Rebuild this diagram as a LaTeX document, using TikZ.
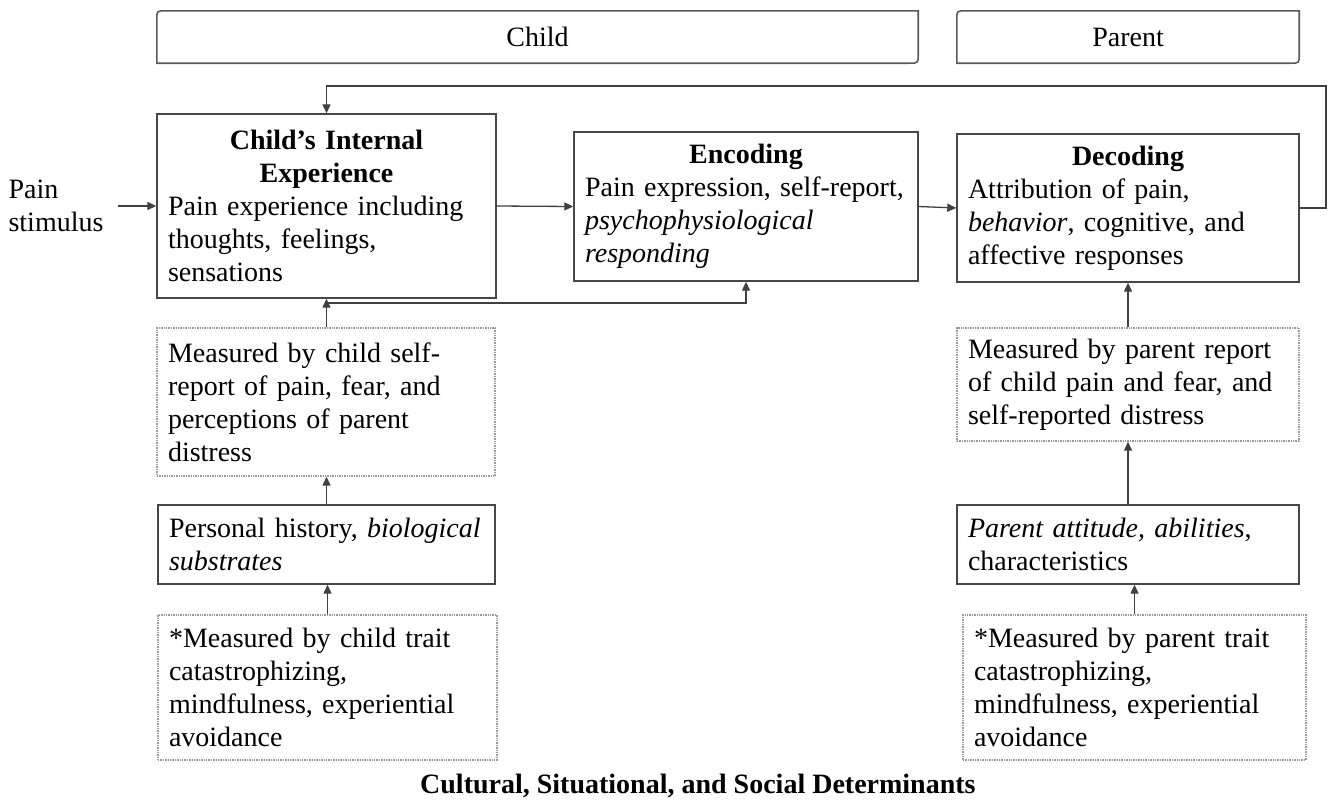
\documentclass[tikz,border=0pt]{standalone}
\usepackage{fontspec}
\setmainfont{Liberation Serif}
\usetikzlibrary{arrows.meta,calc}
\begin{document}
\begin{tikzpicture}[x=1pt,y=-1pt,
  font=\fontsize{28}{33}\selectfont,
  box/.style={draw=black!72, line width=1.4pt, fill=white, inner xsep=11pt, inner ysep=0pt, align=left, minimum height=#1},
  mbox/.style={box=#1, draw=black!40, densely dotted},
  banner/.style={inner sep=0pt, minimum height=52pt},
  bannerline/.style={draw=black!65, line width=1.6pt},
  plain/.style={inner sep=0pt, align=left},
  arr/.style={draw=black!75, line width=1.3pt, -{Triangle[length=9pt,width=8pt]}}]
\useasboundingbox[fill=white] (0,0) rectangle (1332,811);

% banners
\node[banner, minimum width=761pt] (bc) at (537.5,37) {Child};
\node[banner, minimum width=342pt] (bp) at (1128,37) {Parent};
\foreach \b in {bc,bp}{
  \draw[bannerline] (\b.south west) -- ([yshift=-9pt]\b.north west) .. controls (\b.north west) .. ([xshift=9pt]\b.north west)
    -- (\b.north east) -- ([yshift=9pt]\b.south east) .. controls (\b.south east) .. ([xshift=-9pt]\b.south east) -- cycle;
}

% main row
\node[box=184pt, text width=317pt] (cie) at (326.5,206) {{\centering\textbf{Child’s Internal}\\\textbf{Experience}\par}Pain experience including\\thoughts, feelings,\\sensations};
\node[box=149pt, text width=322pt] (enc) at (746,206.5) {{\centering\textbf{Encoding}\par}Pain expression, self-report,\\\textit{psychophysiological}\\\textit{responding}};
\node[box=148pt, text width=320pt] (dec) at (1128,208) {{\centering\textbf{Decoding}\par}Attribution of pain,\\\textit{behavior}, cognitive, and\\affective responses};

\node[plain] (stim) at (56,206) {Pain\\stimulus};

% child column
\node[mbox=148pt, text width=316pt] (mch) at (326,402) {Measured by child self-\\report of pain, fear, and\\perceptions of parent\\distress};
\node[box=79pt, text width=315pt] (pers) at (326.5,544.5) {Personal history, \textit{biological}\\\textit{substrates}};
\node[mbox=145pt, text width=317pt] (tch) at (327.5,687.5) {*Measured by child trait\\catastrophizing,\\mindfulness, experiential\\avoidance};

% parent column
\node[mbox=113pt, text width=320pt] (mpa) at (1128,384.5) {Measured by parent report\\of child pain and fear, and\\self-reported distress};
\node[box=79pt, text width=320pt] (patt) at (1128,544.5) {\textit{Parent attitude, abilities},\\characteristics};
\node[mbox=145pt, text width=321pt] (tpa) at (1134.5,687.5) {*Measured by parent trait\\catastrophizing,\\mindfulness, experiential\\avoidance};

% footer
\node[plain, font=\bfseries\fontsize{28}{33}\selectfont, anchor=west] (foot) at (420,786) {Cultural, Situational, and Social Determinants};

% connectors
\coordinate (fbR) at (1326,86);
\coordinate (jn) at (326.5,303);
\draw[arr] (stim.east -| 118,0) -- (cie.west);
\draw[arr] (cie.east) -- (enc.west);
\draw[arr] (enc.east) -- (dec.west);
\draw[arr] (dec.east) -| (fbR) -| (cie.north);
\draw[arr] (mch.north -| cie.south) -- (cie.south);
\draw[arr] (jn) -| (enc.south);
\draw[arr] (pers.north) -- (mch.south -| pers.north);
\draw[arr] (tch.north) -- (tch.north |- pers.south);
\draw[arr] (mpa.north) -- (dec.south);
\draw[arr] (patt.north) -- (mpa.south);
\draw[arr] (tpa.north) -- (tpa.north |- patt.south);
\end{tikzpicture}
\end{document}
